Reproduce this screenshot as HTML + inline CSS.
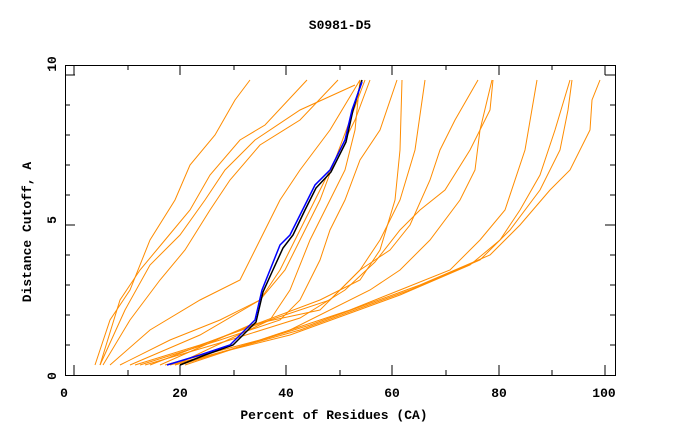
<!DOCTYPE html>
<html><head><style>body{margin:0;background:#fff}svg{display:block}</style></head><body>
<svg width="680" height="440" viewBox="0 0 680 440" xmlns="http://www.w3.org/2000/svg" font-family="Liberation Mono, monospace" font-weight="bold" font-size="13">
<rect width="680" height="440" fill="#fff"/>
<text x="340" y="29" text-anchor="middle">S0981-D5</text>
<text x="334" y="419" text-anchor="middle">Percent of Residues (CA)</text>
<text transform="translate(31,232) rotate(-90)" text-anchor="middle">Distance Cutoff, A</text>
<g text-anchor="middle">
<text x="64" y="397">0</text><text x="180" y="397">20</text><text x="286" y="397">40</text><text x="392" y="397">60</text><text x="499" y="397">80</text><text x="604" y="397">100</text>
<text transform="translate(52,376) rotate(-90)" dy="4">0</text>
<text transform="translate(52,220) rotate(-90)" dy="4">5</text>
<text transform="translate(52,64) rotate(-90)" dy="4">10</text>
</g>
<g fill="none" stroke="#ff8c00" stroke-width="1">
<polyline points="95,365 110,320 130,290 150,240 175,200 190,165 215,135 235,100 250,80"/>
<polyline points="100,365 120,300 140,270 165,240 190,210 210,175 240,140 265,125 307,80"/>
<polyline points="100,365 125,310 150,265 180,235 205,200 225,170 255,140 300,110 355,85"/>
<polyline points="103,365 130,320 160,280 185,250 210,210 230,180 260,145 300,120 338,80"/>
<polyline points="110,365 150,330 200,300 240,280 260,240 280,200 300,170 330,130 360,80"/>
<polyline points="120,365 170,340 220,320 260,300 280,270 300,230 320,190 340,150 355,120 370,80"/>
<polyline points="130,365 200,335 260,300 285,270 300,240 320,200 335,160 350,120 365,80"/>
<polyline points="135,365 200,345 270,320 290,290 310,240 330,200 345,170 355,130 360,80"/>
<polyline points="140,365 220,340 280,320 300,300 320,260 330,230 345,200 360,160 380,130 397,80"/>
<polyline points="150,365 240,330 320,300 360,280 380,250 395,200 400,150 402,80"/>
<polyline points="160,365 250,325 320,310 360,270 380,240 400,200 415,150 425,80"/>
<polyline points="175,365 270,320 330,300 360,270 390,250 410,225 430,180 440,150 455,120 478,80"/>
<polyline points="185,365 290,330 370,290 400,270 430,240 460,200 475,170 480,130 492,80"/>
<polyline points="165,365 260,340 350,310 400,290 450,270 480,240 505,210 525,150 537,80"/>
<polyline points="170,365 290,335 400,295 470,265 500,240 520,210 540,175 555,130 570,80"/>
<polyline points="175,365 300,330 410,290 480,260 510,230 540,190 560,150 568,110 572,80"/>
<polyline points="180,365 310,325 420,285 490,255 520,225 550,190 570,170 590,130 592,100 600,80"/>
<polyline points="145,365 230,340 300,318 345,290 375,262 400,230 420,210 445,190 470,150 490,110 493,80"/>
</g>
<polyline fill="none" stroke="#000" stroke-width="1.5" points="180,365 205,355 233,345 256,322 263,292 272,272 283,248 293,235 305,210 316,188 331,172 346,142 353,110 362,80"/>
<polyline fill="none" stroke="#0000ff" stroke-width="1.5" points="167,365 200,355 230,345 255,320 262,290 270,270 280,245 290,235 305,205 315,185 330,170 345,140 352,110 362,82"/>
<g stroke="#000" stroke-width="1" fill="none">
<path d="M65.5,65.5 H615.5 V375.5 H65.5 Z"/>
<path d="M74,375 v-10 M128,375 v-5 M180,375 v-10 M234,375 v-5 M286,375 v-10 M340,375 v-5 M392,375 v-10 M446,375 v-5 M499,375 v-10 M552,375 v-5 M605,375 v-10"/>
<path d="M74,65 v10 M128,65 v5 M180,65 v10 M234,65 v5 M286,65 v10 M340,65 v5 M392,65 v10 M446,65 v5 M499,65 v10 M552,65 v5 M605,65 v10"/>
<path d="M65,75 h10 M65,105 h5 M65,135 h5 M65,165 h5 M65,195 h5 M65,225 h10 M65,255 h5 M65,285 h5 M65,315 h5 M65,345 h5"/>
<path d="M615,75 h-10 M615,105 h-5 M615,135 h-5 M615,165 h-5 M615,195 h-5 M615,225 h-10 M615,255 h-5 M615,285 h-5 M615,315 h-5 M615,345 h-5"/>
</g>
</svg>
</body></html>
